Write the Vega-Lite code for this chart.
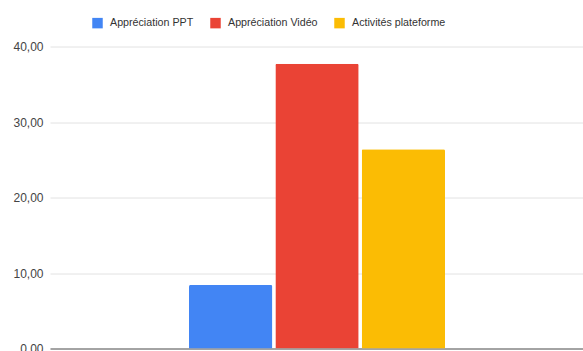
{
  "$schema": "https://vega.github.io/schema/vega-lite/v6.json",
  "autosize": "none",
  "width": 534,
  "height": 302,
  "padding": {"left": 50, "top": 46.5, "right": 0, "bottom": 3},
  "background": "#ffffff",
  "data": {
    "values": [
      {"groupe": "Moyenne", "serie": "Appréciation PPT", "valeur": 8.4},
      {"groupe": "Moyenne", "serie": "Appréciation Vidéo", "valeur": 37.7},
      {"groupe": "Moyenne", "serie": "Activités plateforme", "valeur": 26.4}
    ]
  },
  "mark": {"type": "bar", "cornerRadiusTopLeft": 1.5, "cornerRadiusTopRight": 1.5},
  "encoding": {
    "x": {
      "field": "groupe",
      "type": "nominal",
      "scale": {"paddingInner": 0, "paddingOuter": 0.543},
      "axis": {"title": null, "labels": false, "ticks": false, "domainColor": "#8a8a8a", "domainWidth": 1.5}
    },
    "xOffset": {
      "field": "serie",
      "type": "nominal",
      "sort": ["Appréciation PPT", "Appréciation Vidéo", "Activités plateforme"],
      "scale": {"paddingInner": 0.035, "paddingOuter": 0}
    },
    "y": {
      "field": "valeur",
      "type": "quantitative",
      "scale": {"domain": [0, 40], "nice": false},
      "axis": {
        "title": null,
        "values": [0, 10, 20, 30, 40],
        "labelExpr": "replace(format(datum.value, '.2f'), '.', ',')",
        "domain": false,
        "ticks": false,
        "labelPadding": 7,
        "labelFont": "Liberation Sans",
        "labelFontSize": 12,
        "labelColor": "#444444",
        "gridColor": "#e2e2e2",
        "gridWidth": 1
      }
    },
    "color": {
      "field": "serie",
      "type": "nominal",
      "sort": ["Appréciation PPT", "Appréciation Vidéo", "Activités plateforme"],
      "scale": {
        "domain": ["Appréciation PPT", "Appréciation Vidéo", "Activités plateforme"],
        "range": ["#4285F4", "#EA4335", "#FBBC04"]
      },
      "legend": {
        "title": null,
        "orient": "none",
        "direction": "horizontal",
        "legendX": 42,
        "legendY": -29,
        "symbolType": "square",
        "symbolSize": 110,
        "symbolStrokeWidth": 0,
        "labelFont": "Liberation Sans",
        "labelFontSize": 10.7,
        "labelColor": "#333333",
        "labelOffset": 7,
        "columnPadding": 16
      }
    }
  },
  "config": {
    "view": {"stroke": null},
    "axis": {"labelFont": "Liberation Sans"}
  }
}
